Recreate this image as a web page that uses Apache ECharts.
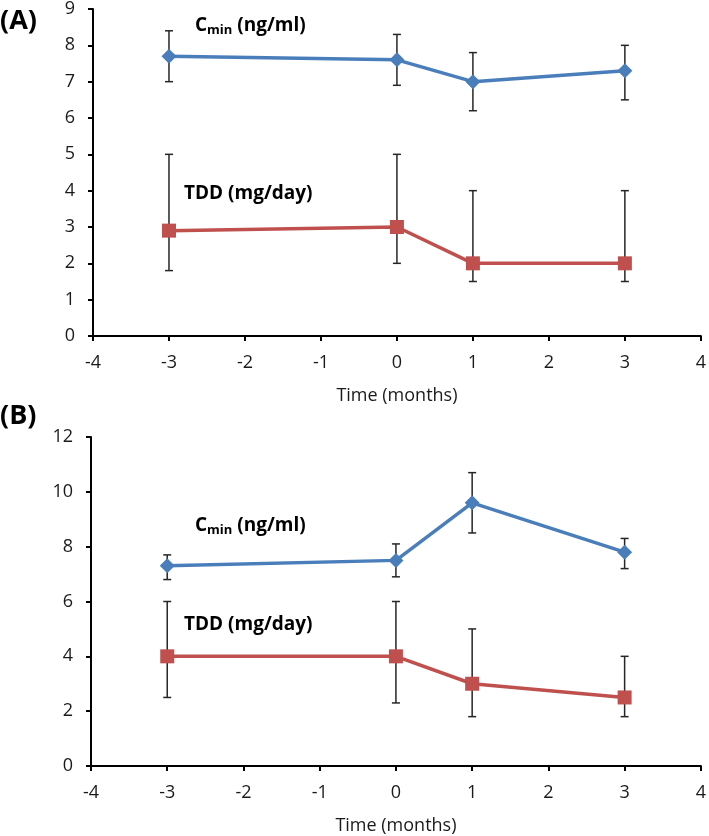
<!DOCTYPE html>
<html lang="en">
<head>
	<meta charset="UTF-8">
	<title>Cmin and TDD over time</title>
	<script src="https://cdn.jsdelivr.net/npm/echarts@6/dist/echarts.min.js"></script>
	<style>
		body { margin: 0; background: #fff; }
	</style>
</head>
<body>
	<div id="container" style="width:709px;height:836px;"></div>

	<script>
		// time points (months)
		var months = [-3, 0, 1, 3];

		// panel A
		var cminA = [7.7, 7.6, 7.0, 7.3];
		var cminA_lo = [7.0, 6.9, 6.2, 6.5];
		var cminA_hi = [8.4, 8.3, 7.8, 8.0];
		var tddA = [2.9, 3.0, 2.0, 2.0];
		var tddA_lo = [1.8, 2.0, 1.5, 1.5];
		var tddA_hi = [5.0, 5.0, 4.0, 4.0];

		// panel B
		var cminB = [7.3, 7.5, 9.6, 7.8];
		var cminB_lo = [6.8, 6.9, 8.5, 7.2];
		var cminB_hi = [7.7, 8.1, 10.7, 8.3];
		var tddB = [4.0, 4.0, 3.0, 2.5];
		var tddB_lo = [2.5, 2.3, 1.8, 1.8];
		var tddB_hi = [6.0, 6.0, 5.0, 4.0];

		var blue = '#4a7ebb';
		var red = '#c0504d';
		var font = '"Open Sans", "Liberation Sans", sans-serif';

		function pairs(ys) {
			return months.map(function (m, i) { return [m, ys[i]]; });
		}
		function bars(lo, hi) {
			return months.map(function (m, i) { return [m, lo[i], hi[i]]; });
		}

		// vertical error bar with caps, drawn under the line
		function errorBars(idx, lo, hi) {
			return {
				type: 'custom',
				xAxisIndex: idx,
				yAxisIndex: idx,
				z: 1,
				silent: true,
				encode: { x: 0, y: [1, 2] },
				data: bars(lo, hi),
				renderItem: function (params, api) {
					var x = api.value(0);
					var top = api.coord([x, api.value(2)]);
					var bot = api.coord([x, api.value(1)]);
					var w = 4;
					var st = { stroke: '#262626', lineWidth: 1.5 };
					return {
						type: 'group',
						children: [
							{ type: 'line', shape: { x1: top[0], y1: top[1], x2: bot[0], y2: bot[1] }, style: st },
							{ type: 'line', shape: { x1: top[0] - w, y1: top[1], x2: top[0] + w, y2: top[1] }, style: st },
							{ type: 'line', shape: { x1: bot[0] - w, y1: bot[1], x2: bot[0] + w, y2: bot[1] }, style: st }
						]
					};
				}
			};
		}

		function lineSeries(idx, ys, color, sym) {
			return {
				type: 'line',
				xAxisIndex: idx,
				yAxisIndex: idx,
				z: 3,
				data: pairs(ys),
				symbol: sym,
				symbolSize: sym == 'rect' ? 14 : 15,
				itemStyle: { color: color },
				lineStyle: { color: color, width: 3.5 },
				animation: false
			};
		}

		function xAxis(idx) {
			return {
				type: 'value',
				gridIndex: idx,
				min: -4, max: 4, interval: 1,
				name: 'Time (months)',
				nameLocation: 'middle',
				nameGap: 51,
				nameTextStyle: { fontFamily: font, fontSize: 18, color: '#1a1a1a' },
				axisLine: { show: true, onZero: false, lineStyle: { color: '#000', width: 2 } },
				axisTick: { show: true, inside: false, length: 5, lineStyle: { color: '#000', width: 2 } },
				axisLabel: { fontFamily: font, fontSize: 18, color: '#1a1a1a', margin: 18 },
				splitLine: { show: false }
			};
		}

		function yAxis(idx, max, step) {
			return {
				type: 'value',
				gridIndex: idx,
				min: 0, max: max, interval: step,
				axisLine: { show: true, onZero: false, lineStyle: { color: '#000', width: 2 } },
				axisTick: { show: true, inside: false, length: 5, lineStyle: { color: '#000', width: 2 } },
				axisLabel: { fontFamily: font, fontSize: 18, color: '#1a1a1a', margin: 18 },
				splitLine: { show: false }
			};
		}

		function cminLabel(x, y) {
			return {
				type: 'text', left: x, top: y,
				style: {
					text: '{a|C}{s|min}{a| (ng/ml)}',
					rich: {
						a: { fontFamily: font, fontSize: 19, fontWeight: 'bold', fill: '#000' },
						s: { fontFamily: font, fontSize: 13, fontWeight: 'bold', fill: '#000', padding: [10, 0, 0, 0] }
					}
				}
			};
		}
		function tddLabel(x, y) {
			return {
				type: 'text', left: x, top: y,
				style: { text: 'TDD (mg/day)', font: 'bold 19px ' + font, fill: '#000' }
			};
		}
		function panelLabel(txt, y) {
			return {
				type: 'text', left: 0, top: y,
				style: { text: txt, font: 'bold 27px ' + font, fill: '#000' }
			};
		}

		var chart = echarts.init(document.getElementById('container'));
		chart.setOption({
			animation: false,
			grid: [
				{ left: 93, right: 8, top: 7, height: 329 },
				{ left: 91, right: 5, top: 437, height: 329 }
			],
			xAxis: [xAxis(0), xAxis(1)],
			yAxis: [yAxis(0, 9, 1), yAxis(1, 12, 2)],
			series: [
				errorBars(0, cminA_lo, cminA_hi),
				errorBars(0, tddA_lo, tddA_hi),
				lineSeries(0, cminA, blue, 'diamond'),
				lineSeries(0, tddA, red, 'rect'),
				errorBars(1, cminB_lo, cminB_hi),
				errorBars(1, tddB_lo, tddB_hi),
				lineSeries(1, cminB, blue, 'diamond'),
				lineSeries(1, tddB, red, 'rect')
			],
			graphic: {
				elements: [
					panelLabel('(A)', 8),
					panelLabel('(B)', 403),
					cminLabel(195, 16),
					tddLabel(184, 184),
					cminLabel(195, 516),
					tddLabel(184, 615)
				]
			}
		});
	</script>
</body>
</html>
